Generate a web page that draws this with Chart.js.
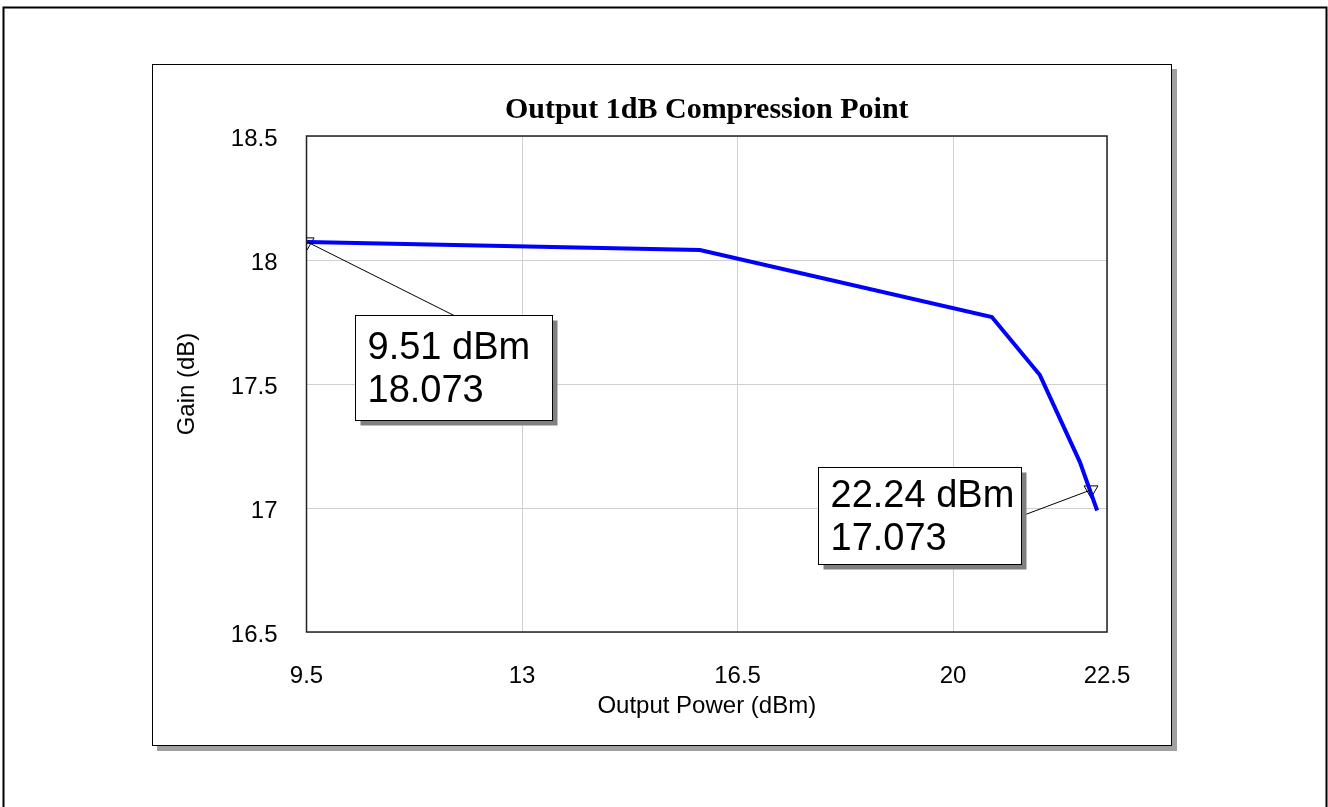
<!DOCTYPE html>
<html>
<head>
<meta charset="utf-8">
<title>Output 1dB Compression Point</title>
<script src="https://cdn.jsdelivr.net/npm/chart.js@4"></script>
<style>
  html, body { margin: 0; padding: 0; background: #fff; }
  canvas { display: block; }
</style>
</head>
<body>
<canvas id="p1db" width="1328" height="807"></canvas>
<script>
// gain curve
const outputPower = [9.51, 15.89, 20.63, 21.41, 22.06, 22.34];
const gain = [18.073, 18.04, 17.77, 17.536, 17.185, 16.99];

// marker readouts
const markerPower = [9.51, 22.24];
const markerGain = [18.073, 17.073];

const xTicks = [9.5, 13, 16.5, 20, 22.5];
const yTicks = [16.5, 17, 17.5, 18, 18.5];

const chartTitle = "Output 1dB Compression Point";

const FONT = "'Liberation Sans', Arial, sans-serif";
Chart.defaults.font.family = FONT;
Chart.defaults.color = "#000";

// where each readout box sits (data units for the corner, px for size)
const callouts = [
  { at: [10.29, 17.78], w: 197, h: 105, anchor: "top" },
  { at: [17.80, 17.167], w: 203, h: 97, anchor: "right" }
];

const framePlugin = {
  id: "frame",
  beforeDraw(chart) {
    const { ctx, width, height } = chart;
    ctx.save();
    ctx.fillStyle = "#fff";
    ctx.fillRect(0, 0, width, height);
    ctx.strokeStyle = "#000";
    ctx.lineWidth = 2;
    ctx.strokeRect(3.5, 7.5, width - 5, height + 20);
    // inner panel + drop shadow
    ctx.fillStyle = "#a0a0a0";
    ctx.fillRect(157, 69, 1020, 682);
    ctx.fillStyle = "#fff";
    ctx.fillRect(152, 64, 1020, 682);
    ctx.lineWidth = 1;
    ctx.strokeRect(152.5, 64.5, 1019, 681);
    ctx.restore();
  },
  beforeDatasetsDraw(chart) {
    const { ctx, chartArea: a } = chart;
    ctx.save();
    ctx.strokeStyle = "#222";
    ctx.lineWidth = 1.5;
    ctx.strokeRect(a.left, a.top, a.right - a.left, a.bottom - a.top);
    // title centred over the plot area
    ctx.fillStyle = "#000";
    ctx.font = "bold 30px 'Liberation Serif', 'Times New Roman', serif";
    ctx.textAlign = "center";
    ctx.textBaseline = "alphabetic";
    ctx.fillText(chartTitle, (a.left + a.right) / 2, a.top - 18);
    ctx.restore();
  }
};

const calloutPlugin = {
  id: "callouts",
  afterDatasetsDraw(chart, args, opts) {
    const { ctx, scales: { x, y } } = chart;
    ctx.save();
    opts.items.forEach((c, i) => {
      const px = x.getPixelForValue(markerPower[i]);
      const py = y.getPixelForValue(markerGain[i]);
      const bx = Math.round(x.getPixelForValue(c.at[0])) + 0.5;
      const by = Math.round(y.getPixelForValue(c.at[1])) + 0.5;
      const ex = c.anchor === "top" ? bx + c.w / 2 : bx + c.w;
      const ey = c.anchor === "top" ? by : by + c.h / 2;

      ctx.strokeStyle = "#000";
      ctx.lineWidth = 1;
      ctx.beginPath();
      ctx.moveTo(px, py);
      ctx.lineTo(ex, ey);
      ctx.stroke();

      ctx.fillStyle = "#808080";
      ctx.fillRect(bx + 5, by + 5, c.w, c.h);
      ctx.fillStyle = "#fff";
      ctx.fillRect(bx, by, c.w, c.h);
      ctx.strokeRect(bx, by, c.w, c.h);

      ctx.fillStyle = "#000";
      ctx.font = "38px " + FONT;
      ctx.textBaseline = "alphabetic";
      ctx.textAlign = "left";
      const mid = by + c.h / 2;
      ctx.fillText(markerPower[i].toFixed(2) + " dBm", bx + 12, mid - 9);
      ctx.fillText(markerGain[i].toFixed(3), bx + 12, mid + 33.5);
    });
    ctx.restore();
  }
};

new Chart(document.getElementById("p1db"), {
  type: "scatter",
  data: {
    datasets: [
      {
        label: "Gain",
        data: outputPower.map((p, i) => ({ x: p, y: gain[i] })),
        showLine: true,
        borderColor: "#0000ff",
        borderWidth: 4,
        pointRadius: 0,
        tension: 0
      },
      {
        label: "Markers",
        data: markerPower.map((p, i) => ({ x: p, y: markerGain[i] })),
        showLine: false,
        pointStyle: "triangle",
        pointRotation: 180,
        pointRadius: 8,
        pointBorderColor: "#000",
        pointBorderWidth: 1,
        pointBackgroundColor: "rgba(0,0,0,0)"
      }
    ]
  },
  options: {
    responsive: false,
    animation: false,
    devicePixelRatio: 1,
    layout: { padding: { left: 153, top: 136, right: 221, bottom: 61 } },
    plugins: {
      legend: { display: false },
      tooltip: { enabled: false },
      title: { display: false },
      callouts: { items: callouts }
    },
    scales: {
      x: {
        type: "linear",
        min: 9.5,
        max: 22.5,
        afterBuildTicks: s => { s.ticks = xTicks.map(v => ({ value: v })); },
        afterFit: s => { s.height = 114; },
        grid: { color: "#d0d0d0", lineWidth: 1, drawTicks: false },
        border: { display: false },
        ticks: { padding: 30, font: { size: 24 }, maxRotation: 0, autoSkip: false, callback: v => String(v) },
        title: { display: true, text: "Output Power (dBm)", font: { size: 24 }, padding: { top: 0, bottom: 25 } }
      },
      y: {
        type: "linear",
        min: 16.5,
        max: 18.5,
        afterBuildTicks: s => { s.ticks = yTicks.map(v => ({ value: v })); },
        afterFit: s => { s.width = 153.5; },
        grid: { color: "#d0d0d0", lineWidth: 1, drawTicks: false },
        border: { display: false },
        ticks: { padding: 29, labelOffset: 3, font: { size: 24 }, autoSkip: false, callback: v => String(v) },
        title: { display: true, text: "Gain (dB)", font: { size: 24 }, padding: { top: 20, bottom: 0 } }
      }
    }
  },
  plugins: [framePlugin, calloutPlugin]
});
</script>
</body>
</html>
